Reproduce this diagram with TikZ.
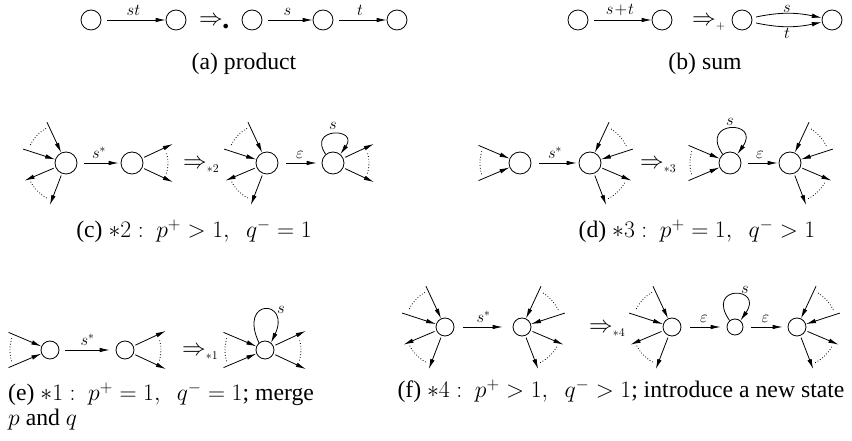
\RequirePackage{fix-cm}
\documentclass[tikz,border=0pt]{standalone}
\usepackage[no-math]{fontspec}
\setmainfont{Liberation Serif}
\usetikzlibrary{arrows.meta}

\begin{document}
\begin{tikzpicture}[x=1pt,y=1pt,
    stnode/.style={circle,draw,line width=0.8pt,inner sep=0pt,minimum size=#1},
    stnode/.default=20pt,
    ar/.style={-{Latex[length=10pt,width=4.5pt]},line width=0.8pt},
    fan/.style={dotted,line width=0.8pt},
    lab/.style={font=\fontsize{16.6}{19}\selectfont,inner sep=4pt},
    imp/.style={font=\fontsize{23.7}{28}\selectfont,inner sep=0pt,anchor=base west},
    capt/.style={font=\fontsize{23.7}{28}\selectfont,inner sep=0pt,anchor=base}]
  \useasboundingbox (0,0) rectangle (852,441);

  % (a) 積
  \foreach \n/\x in {a1/91,a2/176,a3/252,a4/323,a5/397}
    \node[stnode] (\n) at (\x,421) {};
  \draw[ar,shorten <=6pt] (a1) -- node[above,lab] {$st$} (a2);
  \node[imp] (ia) at (199,415) {$\Rightarrow_{\scriptscriptstyle\bullet}$};
  \draw[ar,shorten <=6pt] (a3) -- node[above,lab] {$s$} (a4);
  \draw[ar,shorten <=6pt] (a4) -- node[above,lab] {$t$} (a5);
  \node[capt] (capa) at (244,371) {(a) product};

  % (b) 和
  \foreach \n/\x in {b1/578,b2/662,b3/742,b4/832}
    \node[stnode] (\n) at (\x,421) {};
  \draw[ar,shorten <=6pt] (b1) -- node[above,lab] {$s\!+\!t$} (b2);
  \node[imp] (ib) at (692,415) {$\Rightarrow_{\scriptscriptstyle +}$};
  \draw[ar,shorten <=4pt] (b3) to[bend left=12] node[above,lab,inner sep=0.5pt] {$s$} (b4);
  \draw[ar,shorten <=4pt] (b3) to[bend right=12] node[below,lab,inner sep=1pt] {$t$} (b4);
  \node[capt] (capb) at (705,371) {(b) sum};

  % (c) *2
  \foreach \n/\x in {c1/66,c2/132,c3/267,c4/333}
    \node[stnode=22pt] (\n) at (\x,278) {};
  \draw[ar,shorten <=7pt,shorten >=2pt] (c1) -- node[above,lab] {$s^*$} (c2);
  \node[imp] (ic) at (183,272) {$\Rightarrow_{\scriptscriptstyle *2}$};
  \draw[ar,shorten <=8pt,shorten >=5pt] (c3) -- node[above,lab] {$\varepsilon$} (c4);
  \draw[ar] (c4.130) .. controls +(125:33) and +(55:33) .. node[above,lab] {$s$} (c4.50);
  \node[capt] (capc) at (194,203) {(c) $*2:\ p^+>1,\;\ q^-=1$};

  % (d) *3
  \foreach \n/\x in {d1/520,d2/590,d3/730,d4/790}
    \node[stnode=22pt] (\n) at (\x,278) {};
  \draw[ar,shorten <=8pt,shorten >=2pt] (d1) -- node[above,lab] {$s^*$} (d2);
  \node[imp] (id) at (640,272) {$\Rightarrow_{\scriptscriptstyle *3}$};
  \draw[ar,shorten <=7pt,shorten >=1pt] (d3) -- node[above,lab] {$\varepsilon$} (d4);
  \draw[ar] (d3.130) .. controls +(125:42) and +(55:42) .. node[above,lab,inner sep=3pt] {$s$} (d3.50);
  \node[capt] (capd) at (697,203) {(d) $*3:\ p^+=1,\;\ q^->1$};

  % (e) *1
  \foreach \n/\x in {e1/50,e2/125,e3/265}
    \node[stnode=18pt] (\n) at (\x,91) {};
  \draw[ar,shorten <=6pt,shorten >=6pt] (e1) -- node[above,lab] {$s^*$} (e2);
  \node[imp] (ie) at (182,85) {$\Rightarrow_{\scriptscriptstyle *1}$};
  \draw[ar] (e3.130) .. controls +(115:50) and +(65:48) .. node[pos=0.5,right=12pt,lab,inner sep=0pt] {$s$} (e3.50);
  \node[capt,anchor=base west] (cape) at (8,40) {(e) $*1:\ p^+=1,\;\ q^-=1$; merge};
  \node[capt,anchor=base west] (cape2) at (8,15) {$p$ and $q$};

  % (f) *4
  \foreach \n/\x in {f1/445,f2/522,f3/672,f5/797}
    \node[stnode=18pt] (\n) at (\x,114) {};
  \node[stnode=16pt] (f4) at (735,114) {};
  \draw[ar,shorten <=9pt,shorten >=10pt] (f1) -- node[above,lab] {$s^*$} (f2);
  \node[imp] (if) at (589,108) {$\Rightarrow_{\scriptscriptstyle *4}$};
  \draw[ar,shorten <=9pt,shorten >=6pt] (f3) -- node[above,lab] {$\varepsilon$} (f4);
  \draw[ar,shorten <=8pt,shorten >=5pt] (f4) -- node[above,lab] {$\varepsilon$} (f5);
  \draw[ar] (f4.130) .. controls +(125:44) and +(55:42) .. node[pos=0.6,above right,lab,inner sep=1pt] {$s$} (f4.50);
  \node[capt] (capf) at (621,43) {(f) $*4:\ p^+>1,\;\ q^->1$; introduce a new state};

  % 扇形（左側：入力2本・出力2本）
  \foreach \n in {c1,c3,f1,f3}{
    \coordinate (\n-i1) at ([shift={(115:45)}]\n.center);
    \coordinate (\n-i2) at ([shift={(162:45)}]\n.center);
    \coordinate (\n-o1) at ([shift={(203:45)}]\n.center);
    \coordinate (\n-o2) at ([shift={(249:45)}]\n.center);
    \draw[ar] (\n-i1) -- (\n);
    \draw[ar] (\n-i2) -- (\n);
    \draw[ar,shorten <=2pt] (\n) -- (\n-o1);
    \draw[ar,shorten <=2pt] (\n) -- (\n-o2);
    \draw[fan] ([shift={(120:40)}]\n.center) arc[start angle=120,end angle=155,radius=40];
    \draw[fan] ([shift={(208:40)}]\n.center) arc[start angle=208,end angle=243,radius=40];
  }

  % 扇形（右側：入力2本・出力2本）
  \foreach \n in {d2,d4,f2,f5}{
    \coordinate (\n-i1) at ([shift={(65:45)}]\n.center);
    \coordinate (\n-i2) at ([shift={(18:45)}]\n.center);
    \coordinate (\n-o1) at ([shift={(-23:45)}]\n.center);
    \coordinate (\n-o2) at ([shift={(-69:45)}]\n.center);
    \draw[ar] (\n-i1) -- (\n);
    \draw[ar] (\n-i2) -- (\n);
    \draw[ar,shorten <=2pt] (\n) -- (\n-o1);
    \draw[ar,shorten <=2pt] (\n) -- (\n-o2);
    \draw[fan] ([shift={(25:40)}]\n.center) arc[start angle=25,end angle=60,radius=40];
    \draw[fan] ([shift={(-63:40)}]\n.center) arc[start angle=-63,end angle=-28,radius=40];
  }

  % 左からの入力2本
  \foreach \n in {d1,d3,e1,e3}{
    \coordinate (\n-i1) at ([shift={(157:45)}]\n.center);
    \coordinate (\n-i2) at ([shift={(203:45)}]\n.center);
    \draw[ar] (\n-i1) -- (\n);
    \draw[ar] (\n-i2) -- (\n);
    \draw[fan] ([shift={(163:40)}]\n.center) arc[start angle=163,end angle=197,radius=40];
  }

  % 右への出力2本
  \foreach \n in {c2,c4,e2,e3}{
    \coordinate (\n-o1) at ([shift={(25:45)}]\n.center);
    \coordinate (\n-o2) at ([shift={(-25:45)}]\n.center);
    \draw[ar,shorten <=2pt] (\n) -- (\n-o1);
    \draw[ar,shorten <=2pt] (\n) -- (\n-o2);
    \draw[fan] ([shift={(-17:36)}]\n.center) arc[start angle=-17,end angle=17,radius=36];
  }
\end{tikzpicture}
\end{document}
